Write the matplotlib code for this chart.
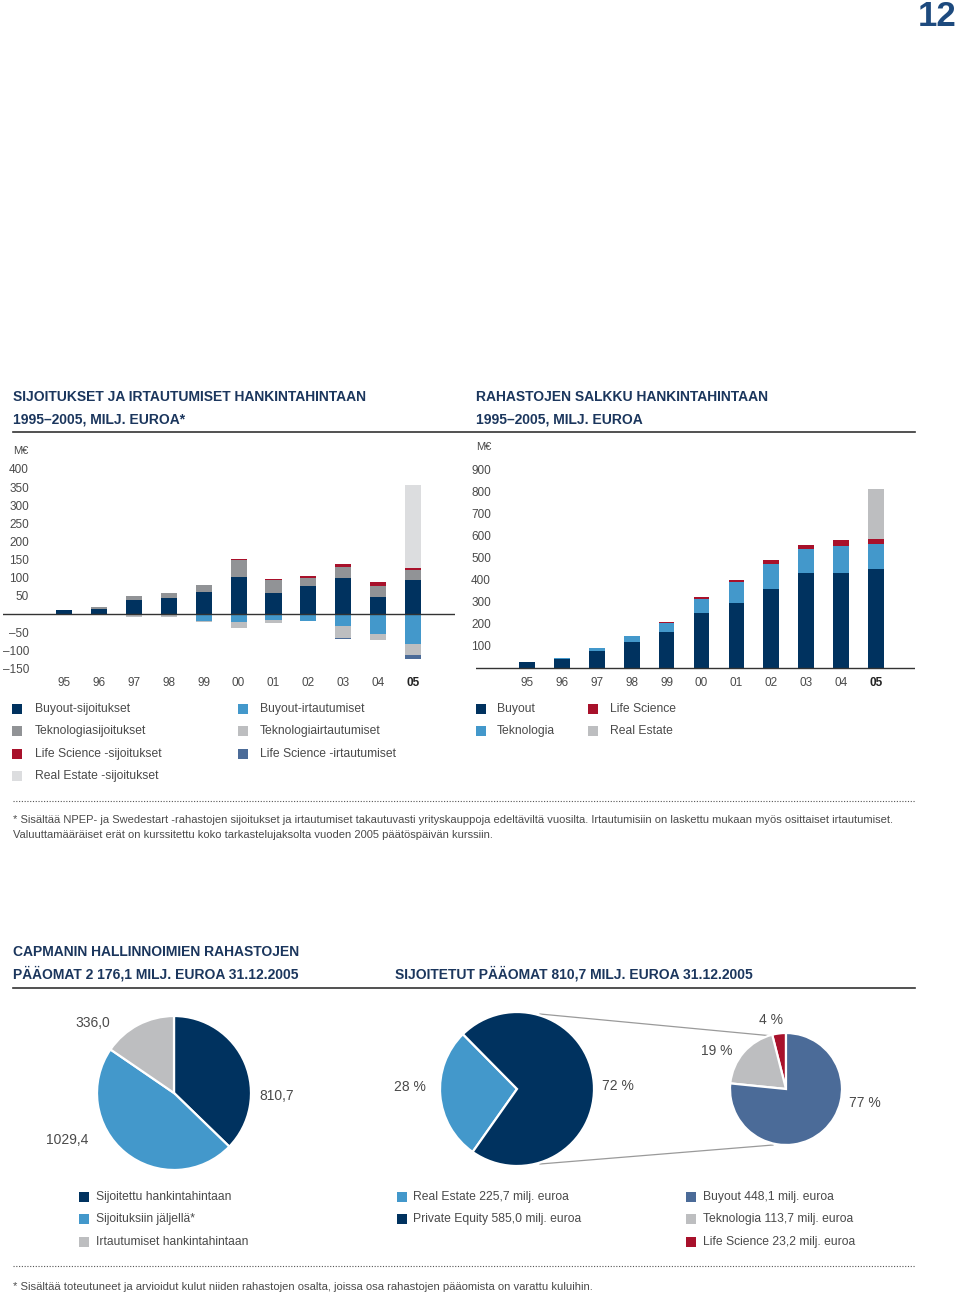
import matplotlib
matplotlib.use('Agg')
import matplotlib.pyplot as plt
from matplotlib.patches import Rectangle

# ── data: left chart (investments + / exits -) ──
years = ['95', '96', '97', '98', '99', '00', '01', '02', '03', '04', '05']
buyout_inv = [11, 15, 38, 44, 61, 103, 58, 77, 100, 48, 94]
tech_inv = [0, 4, 13, 13, 19, 45, 36, 22, 29, 30, 27]
ls_inv = [0, 0, 0, 0, 0, 4, 2, 6, 8, 11, 6]
re_inv = [0, 0, 0, 0, 0, 0, 0, 0, 0, 0, 228]
buyout_exit = [-2, -3, -4, -4, -19, -22, -17, -18, -33, -55, -82]
tech_exit = [0, 0, -4, -5, -4, -18, -8, -1, -33, -18, -32]
ls_exit = [0, 0, 0, 0, 0, 0, 0, 0, -3, 0, -9]
left_ticks = [400, 350, 300, 250, 200, 150, 100, 50, -50, -100, -150]

# ── data: right chart (portfolio at cost) ──
buyout_pf = [27, 41, 77, 116, 163, 249, 296, 359, 431, 428, 448.1]
tech_pf = [0, 6, 15, 27, 41, 65, 93, 113, 109, 122, 113.7]
ls_pf = [0, 0, 0, 0, 3, 7, 8, 15, 18, 28, 23.2]
re_pf = [0, 0, 0, 0, 0, 0, 0, 0, 0, 0, 225.7]
right_ticks = [100, 200, 300, 400, 500, 600, 700, 800, 900]

# ── data: pies ──
cap_vals = [810.7, 1029.4, 336.0]
cap_labels = ['810,7', '1029,4', '336,0']
inv_vals = [225.7, 585.0]
inv_labels = ['28 %', '72 %']
pe_vals = [23.2, 113.7, 448.1]
pe_labels = ['4 %', '19 %', '77 %']

NAVY = '#00325f'
LBLUE = '#4398cb'
TECH_INV = '#919396'
RED = '#a8112b'
RE_INV = '#dcdddf'
LGRAY = '#bdbec0'
STEEL = '#4b6b98'
TITLE = '#1b365d'
TXT = '#4a4a4a'

W, H = 960, 1294
fig = plt.figure(figsize=(W / 100, H / 100), dpi=100)
plt.rcParams['font.family'] = ['Liberation Sans', 'DejaVu Sans']


def ax_px(x0, y0, x1, y1):
    return fig.add_axes([x0 / W, 1 - y1 / H, (x1 - x0) / W, (y1 - y0) / H])


bg = fig.add_axes([0, 0, 1, 1])
bg.set_xlim(0, W)
bg.set_ylim(H, 0)
bg.axis('off')


def txt(x, y, s, size=8.7, color=TXT, weight='normal', ha='left'):
    bg.text(x, y, s, fontsize=size, color=color, fontweight=weight, ha=ha, va='center')


def legend_item(x, y, color, label, tx=None):
    bg.add_patch(Rectangle((x, y - 5), 10, 10, color=color, lw=0))
    txt(x + 23 if tx is None else tx, y, label)


# page number
txt(957, 16, '12', size=25, color='#1d4a7e', weight='bold', ha='right')

# titles
txt(13, 397, 'SIJOITUKSET JA IRTAUTUMISET HANKINTAHINTAAN', size=10, color=TITLE, weight='bold')
txt(13, 419, '1995\u20132005, MILJ. EUROA*', size=10, color=TITLE, weight='bold')
txt(476, 397, 'RAHASTOJEN SALKKU HANKINTAHINTAAN', size=10, color=TITLE, weight='bold')
txt(476, 419, '1995\u20132005, MILJ. EUROA', size=10, color=TITLE, weight='bold')
bg.plot([13, 915], [432, 432], color='#333333', lw=1.2)
txt(13, 451, 'M\u20ac', size=8)
txt(476, 447, 'M\u20ac', size=8)

# ── left bar chart ──
sL = 0.3625
axL = ax_px(3, 614 - 450 * sL, 455, 614 + 170 * sL)
x = range(len(years))
wL = 0.46
bot = [0] * 11
for vals, c in [(buyout_inv, NAVY), (tech_inv, TECH_INV), (ls_inv, RED), (re_inv, RE_INV)]:
    axL.bar(x, vals, wL, bottom=bot, color=c, lw=0)
    bot = [b + v for b, v in zip(bot, vals)]
bot = [0] * 11
for vals, c in [(buyout_exit, LBLUE), (tech_exit, LGRAY), (ls_exit, STEEL)]:
    axL.bar(x, vals, wL, bottom=bot, color=c, lw=0)
    bot = [b + v for b, v in zip(bot, vals)]
axL.axhline(0, color='#333333', lw=1)
axL.set_ylim(-170, 450)
axL.set_xlim(-1.748, 11.2)
axL.set_yticks(left_ticks, [str(t).replace('-', '\u2013') for t in left_ticks])
axL.set_xticks(list(x), years)
axL.tick_params(axis='y', length=0, pad=-18.7, labelsize=8.5, labelcolor=TXT)
axL.tick_params(axis='x', length=0, pad=1, labelsize=8.5, labelcolor=TXT)
axL.get_xticklabels()[-1].set_fontweight('bold')
axL.get_xticklabels()[-1].set_color('#222222')
for s in axL.spines.values():
    s.set_visible(False)
axL.patch.set_alpha(0)

# ── right bar chart ──
sR = 0.2211
axR = ax_px(476, 668 - 963 * sR, 915, 668 + 36 * sR)
wR = 0.45
bot = [0] * 11
for vals, c in [(buyout_pf, NAVY), (tech_pf, LBLUE), (ls_pf, RED), (re_pf, LGRAY)]:
    axR.bar(x, vals, wR, bottom=bot, color=c, lw=0)
    bot = [b + v for b, v in zip(bot, vals)]
axR.axhline(0, color='#333333', lw=1)
axR.set_ylim(-36, 963)
axR.set_xlim(-1.461, 11.117)
axR.set_yticks(right_ticks, [str(t) for t in right_ticks])
axR.set_xticks(list(x), years)
axR.tick_params(axis='y', length=0, pad=-10.8, labelsize=8.5, labelcolor=TXT)
axR.tick_params(axis='x', length=0, pad=1, labelsize=8.5, labelcolor=TXT)
axR.get_xticklabels()[-1].set_fontweight('bold')
axR.get_xticklabels()[-1].set_color('#222222')
for s in axR.spines.values():
    s.set_visible(False)
axR.patch.set_alpha(0)

# legends for bar charts
for i, (c, l) in enumerate([(NAVY, 'Buyout-sijoitukset'), (TECH_INV, 'Teknologiasijoitukset'),
                            (RED, 'Life Science -sijoitukset'), (RE_INV, 'Real Estate -sijoitukset')]):
    legend_item(12, 709 + i * 22.3, c, l)
for i, (c, l) in enumerate([(LBLUE, 'Buyout-irtautumiset'), (LGRAY, 'Teknologiairtautumiset'),
                            (STEEL, 'Life Science -irtautumiset')]):
    legend_item(238, 709 + i * 22.3, c, l, tx=260)
legend_item(476, 709, NAVY, 'Buyout', tx=497)
legend_item(476, 731, LBLUE, 'Teknologia', tx=497)
legend_item(588, 709, RED, 'Life Science', tx=610)
legend_item(588, 731, LGRAY, 'Real Estate', tx=610)

bg.plot([13, 915], [801, 801], ls=(0, (1, 1.5)), color='#555555', lw=0.8)
txt(13, 820, '* Sis\u00e4lt\u00e4\u00e4 NPEP- ja Swedestart -rahastojen sijoitukset ja irtautumiset takautuvasti '
    'yrityskauppoja edelt\u00e4vilt\u00e4 vuosilta. Irtautumisiin on laskettu mukaan my\u00f6s osittaiset irtautumiset.',
    size=8.05)
txt(13, 835, 'Valuuttam\u00e4\u00e4r\u00e4iset er\u00e4t on kurssitettu koko tarkastelujaksolta vuoden 2005 '
    'p\u00e4\u00e4t\u00f6sp\u00e4iv\u00e4n kurssiin.', size=8.05)

# ── pie section ──
txt(13, 952, 'CAPMANIN HALLINNOIMIEN RAHASTOJEN', size=10, color=TITLE, weight='bold')
txt(13, 974, 'P\u00c4\u00c4OMAT 2 176,1 MILJ. EUROA 31.12.2005', size=10, color=TITLE, weight='bold')
txt(395, 974, 'SIJOITETUT P\u00c4\u00c4OMAT 810,7 MILJ. EUROA 31.12.2005', size=10, color=TITLE, weight='bold')
bg.plot([13, 915], [988, 988], color='#333333', lw=1.2)

# connector lines between the two right pies
bg.plot([540, 773], [1014, 1036], color='#9a9a9a', lw=0.9)
bg.plot([540, 773], [1164, 1145], color='#9a9a9a', lw=0.9)

pa = fig.add_axes([0, 0, 1, 1])
wp = dict(edgecolor='white', linewidth=1.6)
pa.pie(cap_vals, colors=[NAVY, LBLUE, LGRAY], startangle=90, counterclock=False,
       center=(174, H - 1093), radius=77, wedgeprops=wp)
pa.pie(inv_vals, colors=[LBLUE, NAVY], startangle=134.6, counterclock=True,
       center=(517, H - 1089), radius=77, wedgeprops=wp)
pa.pie(pe_vals, colors=[RED, LGRAY, STEEL], startangle=90, counterclock=True,
       center=(786, H - 1089), radius=56, wedgeprops=wp)
pa.set_xlim(0, W)
pa.set_ylim(0, H)
pa.set_aspect('auto')
pa.axis('off')

for (px, py), l in zip([(277, 1096), (67, 1140), (93, 1023)], cap_labels):
    txt(px, py, l, size=10, ha='center')
for (px, py), l in zip([(410, 1087), (618, 1086)], inv_labels):
    txt(px, py, l, size=10, ha='center')
for (px, py), l in zip([(771, 1020), (717, 1051), (865, 1103)], pe_labels):
    txt(px, py, l, size=10, ha='center')

# pie legends
for i, (c, l) in enumerate([(NAVY, 'Sijoitettu hankintahintaan'), (LBLUE, 'Sijoituksiin j\u00e4ljell\u00e4*'),
                            (LGRAY, 'Irtautumiset hankintahintaan')]):
    legend_item(79, 1197 + i * 22.3, c, l, tx=96)
legend_item(397, 1197, LBLUE, 'Real Estate 225,7 milj. euroa', tx=413)
legend_item(397, 1219, NAVY, 'Private Equity 585,0 milj. euroa', tx=413)
for i, (c, l) in enumerate([(STEEL, 'Buyout 448,1 milj. euroa'), (LGRAY, 'Teknologia 113,7 milj. euroa'),
                            (RED, 'Life Science 23,2 milj. euroa')]):
    legend_item(686, 1197 + i * 22.3, c, l, tx=703)

bg.plot([13, 915], [1266, 1266], ls=(0, (1, 1.5)), color='#555555', lw=0.8)
txt(13, 1287, '* Sis\u00e4lt\u00e4\u00e4 toteutuneet ja arvioidut kulut niiden rahastojen osalta, joissa osa '
    'rahastojen p\u00e4\u00e4omista on varattu kuluihin.', size=8.1)

fig.savefig('out.png', dpi=100)
